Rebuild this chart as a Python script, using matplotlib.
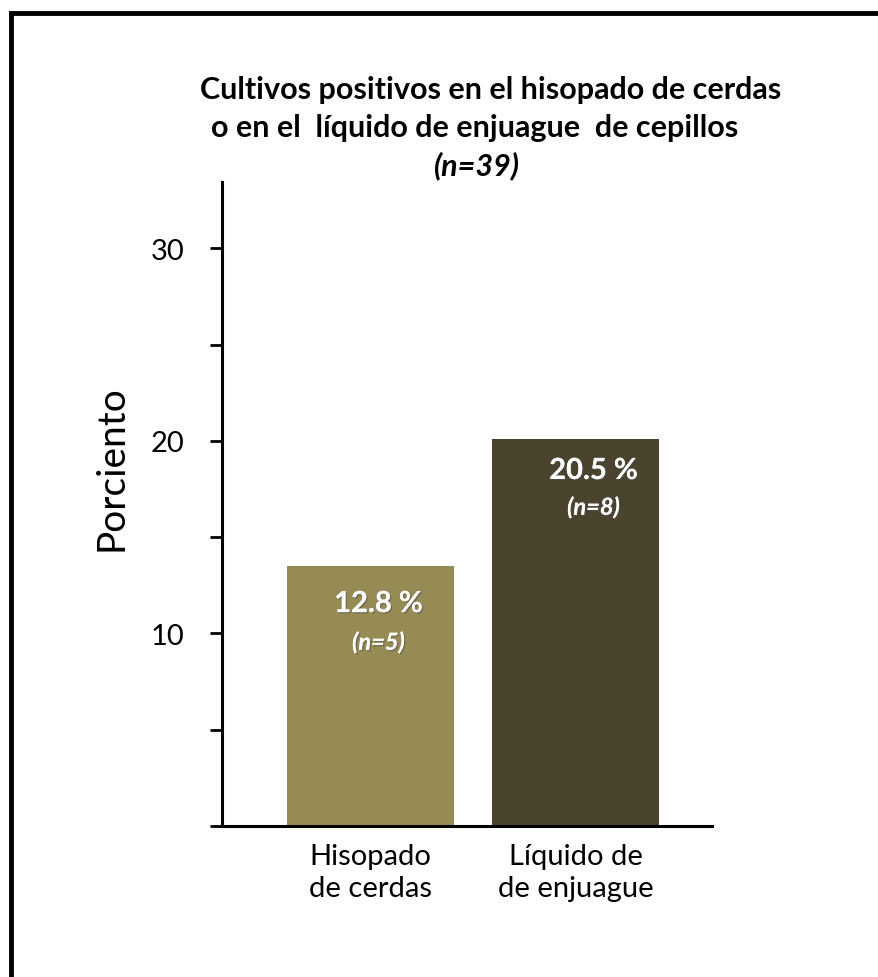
import matplotlib.pyplot as plt
import matplotlib.patheffects as pe

plt.rcParams['font.family'] = ['Lato', 'DejaVu Sans']

# data
categories = ['Hisopado\nde cerdas', 'Líquido de\nde enjuague']
values = [13.5, 20.1]
pct_labels = ['12.8 %', '20.5 %']
n_labels = ['(n=5)', '(n=8)']
colors = ['#968b55', '#4a432d']

fig = plt.figure(figsize=(8.79, 9.78), dpi=100)
ax = fig.add_axes([0.2526, 0.1544, 0.5574, 0.6585])

x = list(range(len(categories)))
ax.bar(x, values, width=0.815, color=colors)
ax.set_xlim(-0.724, 1.666)
ax.set_ylim(0, 33.45)

ax.set_yticks([0, 5, 10, 15, 20, 25, 30])
ax.set_yticklabels(['', '', '10', '', '20', '', '30'])
ax.set_xticks(x)
ax.set_xticklabels(categories, linespacing=1.3)
ax.tick_params(axis='y', length=9, width=2, labelsize=21, pad=18)
ax.tick_params(axis='x', length=0, labelsize=21, pad=12)

for side in ['top', 'right']:
    ax.spines[side].set_visible(False)
for side in ['left', 'bottom']:
    ax.spines[side].set_linewidth(2.2)

ax.set_ylabel('Porciento', fontsize=28)
ax.yaxis.set_label_coords(-0.188, 0.557)

# bar labels (offsets in pixels from the bar top)
shadow = [pe.withSimplePatchShadow(offset=(1, -1), alpha=0.5), pe.Normal()]
dx = [8, 18]
dy_pct = [38, 32]
dy_n = [76, 68]
for i in range(len(values)):
    ax.annotate(pct_labels[i], (x[i], values[i]), xytext=(dx[i], -dy_pct[i]),
                textcoords='offset pixels', ha='center', va='center',
                color='white', fontsize=21, fontweight='bold', path_effects=shadow)
    ax.annotate(n_labels[i], (x[i], values[i]), xytext=(dx[i], -dy_n[i]),
                textcoords='offset pixels', ha='center', va='center',
                color='white', fontsize=17, fontstyle='italic', fontweight='bold',
                path_effects=shadow)

# title
fig.text(491 / 879, 0.908, 'Cultivos positivos en el hisopado de cerdas',
         ha='center', va='center', fontsize=22, fontweight='bold')
fig.text(475 / 879, 0.869, 'o en el  líquido de enjuague  de cepillos',
         ha='center', va='center', fontsize=22, fontweight='bold')
fig.text(477 / 879, 0.831, '(n=39)', ha='center', va='center', fontsize=22,
         fontweight='bold', fontstyle='italic')

# frame on top and left
fig.add_artist(plt.Line2D([0.0125, 0.0125], [0, 0.986], color='black', linewidth=3.5))
fig.add_artist(plt.Line2D([0.0125, 1], [0.986, 0.986], color='black', linewidth=3.5))

fig.savefig('out.png', dpi=100)
